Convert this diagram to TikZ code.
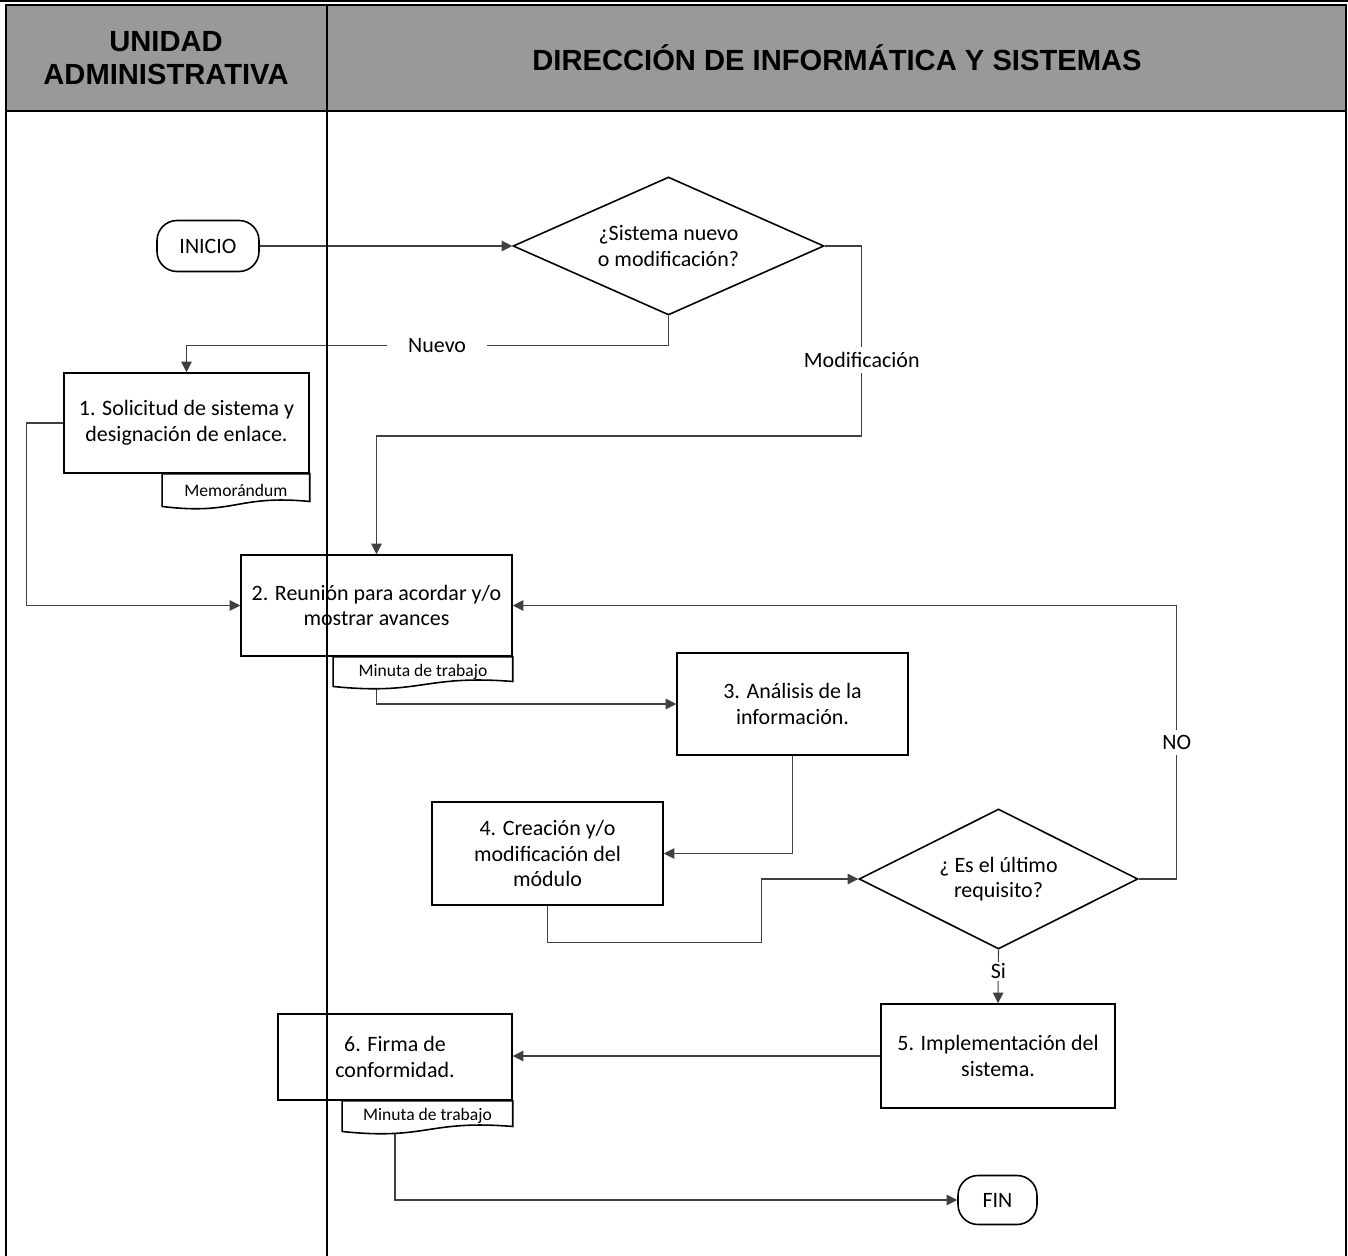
\documentclass[tikz,border=0pt]{standalone}
\usepackage{fontspec}
\setmainfont{Carlito}
\newfontfamily\headfont{Liberation Sans}
\usetikzlibrary{shapes.geometric, arrows.meta, calc, backgrounds}

% wavy-bottomed outline for the document nodes
\newcommand{\docoutline}[1]{%
  \draw[shapeline, fill=white] (#1.north west) -- (#1.north east) -- ($(#1.south east)+(0,-5)$)
    .. controls ($(#1.south)+(0,-12)$) and ($(#1.south)+(0,9)$) .. (#1.south west) -- cycle;}

\begin{document}
\begin{tikzpicture}[x=0.02cm, y=-0.02cm,
    every node/.style={font=\fontsize{12.5}{14.6}\selectfont},
    shapeline/.style={draw=black, line width=0.9pt},
    process/.style={rectangle, shapeline, fill=white, align=center, inner sep=2pt},
    terminal/.style={rectangle, rounded corners=0.4cm, shapeline, fill=white},
    decision/.style={diamond, shapeline, fill=white, align=center, inner sep=0pt},
    docbox/.style={rectangle, inner sep=0pt, font=\fontsize{10}{12}\selectfont},
    flow/.style={draw=black!75, line width=0.6pt, -{Triangle[length=6pt, width=6pt]}},
    lbl/.style={fill=white, inner xsep=3pt, inner ysep=3pt},
    headtext/.style={align=center, font=\headfont\bfseries\fontsize{16.6}{18.5}\selectfont},
    lane/.style={line width=1.3pt}]
  \useasboundingbox (0,0) rectangle (1348,1256);

  % header
  \fill[black!40] (6,5) rectangle (1346,111);
  \node[headtext] (unidad) at (166,58) {UNIDAD\\ADMINISTRATIVA};
  \node[headtext] (direccion) at (837,58) {DIRECCIÓN DE INFORMÁTICA Y SISTEMAS};

  % steps
  \node[terminal, minimum width=2.04cm, minimum height=1.02cm] (inicio) at (208,246) {INICIO};
  \node[decision, aspect=2.25, minimum width=6.22cm, minimum height=2.76cm] (q1) at (668.5,246) {¿Sistema nuevo\\o modificación?};
  \node[process, minimum width=4.9cm, minimum height=2cm] (s1) at (186.5,423) {1. Solicitud de sistema y\\designación de enlace.};
  \node[docbox, anchor=north east, minimum width=2.94cm, minimum height=0.64cm] (memo) at (s1.south east) {Memorándum};
  \node[process, minimum width=5.42cm, minimum height=2.02cm] (s2) at (376.5,605.5) {2. Reunión para acordar y/o\\mostrar avances};
  \node[docbox, anchor=north east, minimum width=3.58cm, minimum height=0.58cm] (minuta2) at (s2.south east) {Minuta de trabajo};
  \node[process, minimum width=4.62cm, minimum height=2.04cm] (s3) at (792.5,704) {3. Análisis de la\\información.};
  \node[process, minimum width=4.62cm, minimum height=2.06cm] (s4) at (547.5,853.5) {4. Creación y/o\\modificación del\\módulo};
  \node[decision, aspect=2, minimum width=5.58cm, minimum height=2.8cm] (q2) at (998.5,879) {¿ Es el último\\requisito?};
  \node[process, minimum width=4.68cm, minimum height=2.08cm] (s5) at (998,1056) {5. Implementación del\\sistema.};
  \node[process, minimum width=4.68cm, minimum height=1.72cm] (s6) at (395,1057) {6. Firma de\\conformidad.};
  \node[docbox, anchor=north east, minimum width=3.4cm, minimum height=0.6cm] (minuta6) at (s6.south east) {Minuta de trabajo};
  \node[terminal, minimum width=1.58cm, minimum height=0.98cm] (fin) at (997.5,1200) {FIN};

  % connectors go underneath, documents cover them
  \begin{scope}[on background layer]
    \draw[flow] (inicio) -- (q1);
    \draw[flow] (q1.south) -- ++(0,30) -| node[lbl, pos=0.24, inner xsep=0.42cm] {Nuevo} (s1.north);
    \draw[flow] (q1.east) -| node[lbl, pos=0.8] {Modificación} ++(37,190) -| (s2.north);
    \draw[flow] (s1.west) -- ++(-37,0) |- (s2.west);
    \draw[flow] (s2.south) |- (s3.west);
    \draw[flow] (s3.south) |- (s4.east);
    \draw[flow] (s4.south) -- ++(0,37) -- ++(214,0) |- (q2.west);
    \draw[flow] (q2.east) -- ++(38,0) |- node[lbl, pos=0.25] {NO} (s2.east);
    \draw[flow] (q2.south) -- node[lbl, pos=0.4, inner ysep=1pt] {Si} (s5.north);
    \draw[flow] (s5.west) -- (s5.west -| s6.east);
    \draw[flow] (s6.south) |- (fin.west);
    \docoutline{memo}
    \docoutline{minuta2}
    \docoutline{minuta6}
  \end{scope}

  % lanes
  \draw[lane] (0,1) -- (1348,1);
  \draw[lane] (6,5) rectangle (1346,111);
  \draw[lane] (6,111) -- (6,1256);
  \draw[lane] (1346,111) -- (1346,1256);
  \draw[lane] (327,5) -- (327,1256);
\end{tikzpicture}
\end{document}
